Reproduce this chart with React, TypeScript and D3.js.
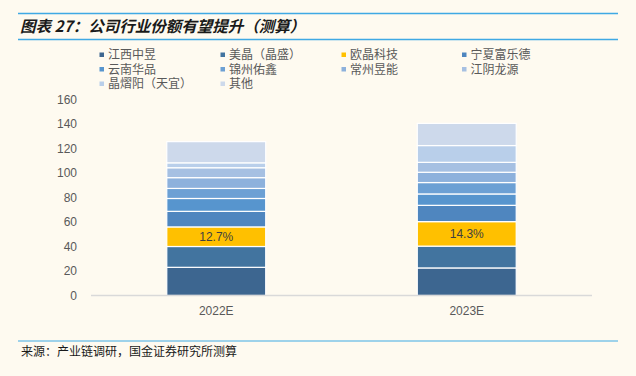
import React from "react";
import * as d3 from "d3";

const categories = ["2022E", "2023E"];
const seriesNames = [
  "江西中昱",
  "美晶（晶盛）",
  "欧晶科技",
  "宁夏富乐德",
  "云南华品",
  "锦州佑鑫",
  "常州昱能",
  "江阴龙源",
  "晶熠阳（天宜）",
  "其他",
];
const jiangxi = [23, 22.5];
const meijing = [17, 17.8];
const oujing = [16, 20];
const ningxia = [12.7, 13.3];
const yunnan = [10.5, 9.3];
const jinzhou = [8.2, 9.3];
const changzhou = [8.8, 8.4];
const jiangyin = [8.1, 8.1];
const jingyiyang = [4, 13.7];
const others = [17.3, 18.1];
const oujingLabels = ["12.7%", "14.3%"];
const yTicks = [0, 20, 40, 60, 80, 100, 120, 140, 160];
const colors = [
  "#3d6690",
  "#42749f",
  "#ffc000",
  "#4f86bf",
  "#5795ce",
  "#6ca0d4",
  "#8db1dc",
  "#a6c0e2",
  "#b9cfea",
  "#cdd9eb",
];

const seriesValues = [
  jiangxi,
  meijing,
  oujing,
  ningxia,
  yunnan,
  jinzhou,
  changzhou,
  jiangyin,
  jingyiyang,
  others,
];

const W = 636;
const H = 376;
const sansNum = "'Liberation Sans', Arial, Helvetica, sans-serif";
const cjk = "'Noto Sans CJK SC', 'Liberation Sans', sans-serif";

export default function App() {
  const x = d3
    .scaleBand<string>()
    .domain(categories)
    .range([91, 592])
    .paddingInner(0.605)
    .paddingOuter(0.3025);
  const y = d3.scaleLinear().domain([0, 160]).range([295.5, 99.5]);

  const table = categories.map((c, i) => {
    const row: Record<string, number | string> = { cat: c };
    seriesNames.forEach((s, k) => (row[s] = seriesValues[k][i]));
    return row;
  });
  const stack = d3.stack<Record<string, number | string>>().keys(seriesNames);
  const layers = stack(table as any);

  const legendCols = [101.5, 222.5, 343.5, 464];
  const legendRows = [55, 69.5, 84];

  return (
    <div style={{ position: "absolute", left: 0, top: 0 }}>
      <svg width={W} height={H} style={{ display: "block", background: "#fefaf0" }}>
        <rect x={0} y={0} width={W} height={H} fill="#fefaf0" />
        {/* title */}
        <line x1={18} x2={618} y1={13.5} y2={13.5} stroke="#3fa9e4" strokeWidth={1.5} />
        <text
          x={20}
          y={32}
          fontFamily={cjk}
          fontSize={15.5}
          fontWeight="bold"
          fontStyle="italic"
          fill="#1a1a1a"
        >
          图表 27：公司行业份额有望提升（测算）
        </text>
        <line x1={18} x2={618} y1={39.5} y2={39.5} stroke="#3fa9e4" strokeWidth={1.5} />

        {/* legend */}
        {seriesNames.map((s, i) => {
          const cx = legendCols[i % 4];
          const cy = legendRows[Math.floor(i / 4)];
          return (
            <g key={s}>
              <rect x={cx - 2} y={cy - 2.5} width={4.5} height={4.5} fill={colors[i]} />
              <text
                x={cx + 6.5}
                y={cy}
                dy="0.36em"
                fontFamily={cjk}
                fontSize={12}
                fill="#595959"
              >
                {s}
              </text>
            </g>
          );
        })}

        {/* y axis labels */}
        {yTicks.map((t) => (
          <text
            key={t}
            x={77}
            y={y(t)}
            dy="0.35em"
            textAnchor="end"
            fontFamily={sansNum}
            fontSize={12}
            fill="#595959"
          >
            {t}
          </text>
        ))}

        {/* bars */}
        {layers.map((layer, k) => (
          <g key={seriesNames[k]}>
            {layer.map((d, i) => (
              <rect
                key={i}
                x={x(categories[i])!}
                width={x.bandwidth()}
                y={y(d[1])}
                height={y(d[0]) - y(d[1])}
                fill={colors[k]}
                stroke="#ffffff"
                strokeWidth={1.2}
              />
            ))}
          </g>
        ))}

        {/* data labels for 欧晶科技 */}
        {layers[2].map((d, i) => (
          <text
            key={i}
            x={x(categories[i])! + x.bandwidth() / 2}
            y={(y(d[0]) + y(d[1])) / 2}
            dy="0.36em"
            textAnchor="middle"
            fontFamily={sansNum}
            fontSize={12}
            fill="#404040"
          >
            {oujingLabels[i]}
          </text>
        ))}

        {/* x axis */}
        <line x1={91} x2={592} y1={295.5} y2={295.5} stroke="#d9d9d9" strokeWidth={1.5} />
        {categories.map((c) => (
          <text
            key={c}
            x={x(c)! + x.bandwidth() / 2}
            y={311}
            dy="0.35em"
            textAnchor="middle"
            fontFamily={sansNum}
            fontSize={12}
            fill="#595959"
          >
            {c}
          </text>
        ))}

        {/* source */}
        <line x1={18} x2={618} y1={341} y2={341} stroke="#3fa9e4" strokeWidth={1.2} />
        <text x={21} y={352} dy="0.35em" fontFamily={cjk} fontSize={12} fill="#1a1a1a">
          来源：产业链调研，国金证券研究所测算
        </text>
      </svg>
    </div>
  );
}
